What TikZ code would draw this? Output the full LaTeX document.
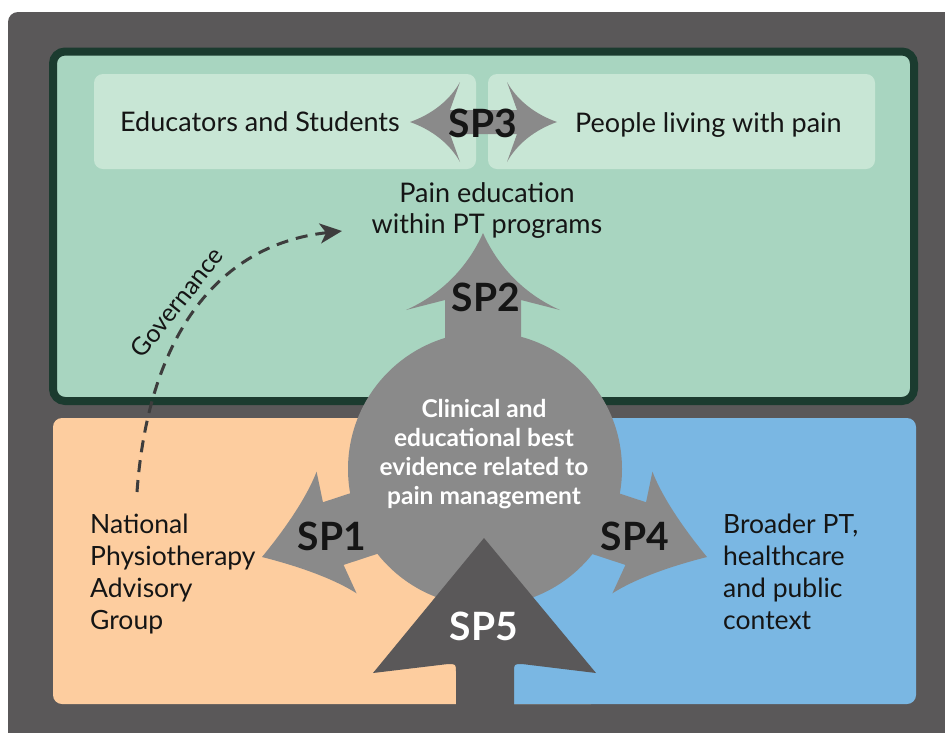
\documentclass[tikz,border=0pt]{standalone}
\usepackage{fontspec}
\setmainfont{Lato}
\usetikzlibrary{arrows.meta}
\definecolor{bgdark}{HTML}{5A5859}
\definecolor{midgray}{HTML}{8A8A8A}
\definecolor{greenfill}{HTML}{A8D5C0}
\definecolor{palegreen}{HTML}{C8E6D5}
\definecolor{greenborder}{HTML}{1B3B2F}
\definecolor{orangefill}{HTML}{FDCD9F}
\definecolor{bluefill}{HTML}{7AB7E3}
\definecolor{txtdark}{HTML}{151515}
\definecolor{dashcol}{HTML}{3D3D3D}
\tikzset{
  % w, h, c, s, L, concavity
  pics/sparrow/.style n args={6}{code={%
    \fill[midgray] (0,0) .. controls ({-#6*#1},{0.45*#2}) and ({-(#6+0.35)*#1},{0.8*#2}) .. ({-#1},{#2})
      -- ({-#4},{#3}) -- ({-#4},{#5}) -- ({#4},{#5}) -- ({#4},{#3}) -- ({#1},{#2})
      .. controls ({(#6+0.35)*#1},{0.8*#2}) and ({#6*#1},{0.45*#2}) .. (0,0) -- cycle;}},
  boxtxt/.style={font=\fontsize{27}{31.5}\selectfont, text=txtdark, inner sep=0pt},
  sidetxt/.style={font=\fontsize{26.5}{32}\selectfont, text=txtdark, inner sep=0pt, align=left},
  hubtxt/.style={font=\fontsize{24.5}{29}\selectfont\bfseries, text=white, inner sep=0pt, align=center},
  splbl/.style={font=\fontsize{39}{42}\selectfont\bfseries, text=txtdark, inner sep=0pt},
  govlbl/.style={font=\fontsize{25}{28}\selectfont, text=txtdark, inner sep=0pt},
  govline/.style={draw=dashcol, line width=3pt, dash pattern=on 12pt off 8pt,
    -{Stealth[length=22pt,width=20pt,inset=6pt]}},
}
\begin{document}
\begin{tikzpicture}[x=1pt,y=-1pt]
\useasboundingbox (0,0) rectangle (945,732);
\fill[white] (0,0) rectangle (945,732);
\begin{scope}
  \clip (0,0) rectangle (945,732);
  \fill[bgdark, rounded corners=10pt] (8,12) rectangle (965,752);
\end{scope}
% green panel
\draw[line width=8pt, draw=greenborder, fill=greenfill, rounded corners=12pt] (53,51.5) rectangle (914,401);
\fill[palegreen, rounded corners=9pt] (94,74) rectangle (476,169);
\fill[palegreen, rounded corners=9pt] (488,74) rectangle (875,169);
% orange and blue panels
\fill[orangefill, rounded corners=9pt] (53,418) rectangle (600,704);
\fill[bluefill, rounded corners=9pt] (485,418) rectangle (916,704);
% governance connector
\coordinate (govS) at (137,492);
\coordinate (govE) at (342,231);
\draw[govline] (govS) .. controls (148,340) and (215,245) .. (govE);
\node[govlbl, rotate=51.5, anchor=base] (gov) at (184,308) {Governance};
% central circle
\node[circle, fill=midgray, minimum size=274pt, inner sep=0pt] (hub) at (485,469) {};
% arrows
\pic (sp2arrow) at (483,233) {sparrow={77}{77}{67}{38}{115}{0.2}};
\pic[rotate=108.2] (sp1arrow) at (262,557) {sparrow={64}{78.5}{75}{33}{125}{0.35}};
\pic[rotate=-108.2] (sp4arrow) at (707,557) {sparrow={64}{78.5}{75}{33}{125}{0.35}};
% SP3 double arrow
\fill[midgray] (410,122) .. controls (432.5,114) and (450,100) .. (460,82) -- (450,110) -- (517,110) -- (507,82)
  .. controls (517,100) and (534.5,114) .. (557,122) .. controls (534.5,130) and (517,144) .. (507,162)
  -- (517,134) -- (450,134) -- (460,162) .. controls (450,144) and (432.5,130) .. (410,122) -- cycle;
% SP5 arrow
\fill[bgdark] (484,538) -- (596,673) -- (522,664) .. controls (514,664) .. (514,672) -- (514,715)
  -- (456,715) -- (456,672) .. controls (456,664) .. (448,664) -- (373,673) -- cycle;
% texts
\node[boxtxt, anchor=base west] (edu) at (120,131) {Educators and Students};
\node[boxtxt, anchor=base west] (people) at (575,132) {People living with pain};
\node[boxtxt, anchor=north, align=center] (pe) at (487,182) {Pain education\\within PT programs};
\node[hubtxt, anchor=north] (hubtext) at (484,399) {Clinical and\\educational best\\evidence related to\\pain management};
\node[sidetxt, anchor=north west] (npag) at (90,513.5) {National\\Physiotherapy\\Advisory\\Group};
\node[sidetxt, anchor=north west] (broad) at (723,513.5) {Broader PT,\\healthcare\\and public\\context};
\node[splbl] (sp3) at (483,123.5) {SP3};
\node[splbl] (sp2) at (486,297) {SP2};
\node[splbl] (sp1) at (332,536) {SP1};
\node[splbl] (sp4) at (635,536) {SP4};
\node[splbl, text=white] (sp5) at (484,626.5) {SP5};
\end{tikzpicture}
\end{document}
